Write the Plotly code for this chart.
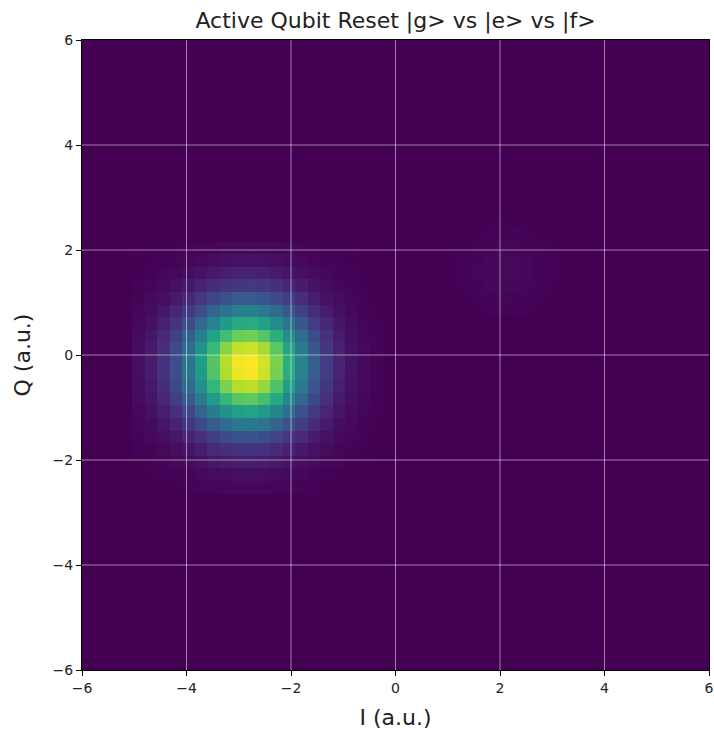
import numpy as np
import plotly.graph_objects as go

# ---- data -------------------------------------------------------------
TITLE = "Active Qubit Reset |g> vs |e> vs |f>"
X_LABEL = "I (a.u.)"
Y_LABEL = "Q (a.u.)"
AXIS_RANGE = [-6, 6]
N_BINS = 50
TICK_VALUES = [-6, -4, -2, 0, 2, 4, 6]

# main |g> cluster: counts, rows = Q bins 14..33 (bottom->top),
# columns = I bins 4..23
MAIN_I_BIN0 = 4
MAIN_Q_BIN0 = 14
MAIN_COUNTS = [
    [1, 1, 3, 4, 7, 10, 13, 16, 18, 18, 17, 14, 11, 8, 5, 3, 2, 1, 0, 0],
    [1, 3, 6, 10, 15, 22, 29, 35, 39, 40, 37, 32, 25, 18, 12, 7, 4, 2, 1, 0],
    [3, 6, 12, 20, 31, 45, 59, 71, 79, 81, 75, 64, 50, 36, 24, 14, 8, 4, 2, 1],
    [6, 11, 21, 37, 57, 83, 109, 132, 147, 149, 139, 119, 93, 67, 44, 27, 15, 8, 3, 2],
    [9, 19, 36, 62, 98, 141, 186, 226, 251, 255, 238, 204, 159, 115, 76, 46, 25, 13, 6, 3],
    [15, 30, 57, 97, 153, 220, 290, 352, 391, 397, 371, 317, 249, 179, 118, 71, 40, 20, 9, 4],
    [21, 43, 81, 139, 218, 314, 414, 502, 557, 567, 529, 452, 354, 255, 168, 101, 56, 28, 13, 6],
    [28, 57, 106, 182, 285, 410, 542, 657, 729, 742, 692, 592, 464, 334, 220, 133, 74, 37, 17, 7],
    [33, 68, 127, 218, 343, 493, 652, 789, 876, 891, 831, 712, 558, 401, 264, 159, 89, 45, 21, 9],
    [36, 75, 140, 240, 377, 542, 716, 868, 963, 980, 914, 782, 613, 441, 290, 175, 97, 49, 23, 10],
    [37, 75, 141, 242, 380, 547, 723, 876, 972, 989, 922, 789, 619, 445, 293, 177, 98, 50, 23, 10],
    [34, 70, 130, 224, 352, 506, 668, 810, 899, 914, 853, 730, 572, 411, 271, 163, 91, 46, 21, 9],
    [29, 59, 110, 190, 298, 429, 566, 686, 762, 775, 723, 619, 485, 349, 230, 138, 77, 39, 18, 8],
    [22, 46, 86, 148, 232, 333, 440, 534, 592, 603, 562, 481, 377, 271, 178, 108, 60, 30, 14, 6],
    [16, 33, 61, 105, 165, 237, 314, 380, 422, 429, 400, 343, 269, 193, 127, 77, 43, 22, 10, 4],
    [10, 21, 40, 69, 108, 155, 205, 248, 275, 280, 261, 223, 175, 126, 83, 50, 28, 14, 6, 3],
    [6, 13, 24, 41, 64, 93, 122, 148, 164, 167, 156, 134, 105, 75, 50, 30, 17, 8, 4, 2],
    [3, 7, 13, 22, 35, 51, 67, 81, 90, 92, 85, 73, 57, 41, 27, 16, 9, 5, 2, 1],
    [2, 4, 7, 11, 18, 26, 34, 41, 46, 47, 44, 37, 29, 21, 14, 8, 5, 2, 1, 0],
    [1, 2, 3, 5, 8, 12, 15, 19, 21, 21, 20, 17, 13, 9, 6, 4, 2, 1, 0, 0],
]

# faint residual |e> cluster: rows = Q bins 28..35, columns = I bins 29..37
FAINT_I_BIN0 = 29
FAINT_Q_BIN0 = 28
FAINT_COUNTS = [
    [1, 2, 4, 6, 7, 6, 5, 3, 1],
    [1, 4, 8, 11, 13, 12, 10, 6, 3],
    [2, 6, 11, 16, 19, 18, 15, 10, 4],
    [3, 7, 13, 18, 21, 21, 18, 12, 6],
    [2, 6, 11, 16, 19, 20, 17, 11, 6],
    [1, 4, 7, 11, 14, 15, 12, 8, 4],
    [1, 2, 4, 6, 7, 8, 7, 4, 2],
    [0, 1, 2, 2, 3, 3, 2, 2, 1],
]

# ---- build histogram grid --------------------------------------------
edges = np.linspace(AXIS_RANGE[0], AXIS_RANGE[1], N_BINS + 1)
centers = (edges[:-1] + edges[1:]) / 2
Z = np.zeros((N_BINS, N_BINS))
for block, i0, q0 in ((MAIN_COUNTS, MAIN_I_BIN0, MAIN_Q_BIN0),
                      (FAINT_COUNTS, FAINT_I_BIN0, FAINT_Q_BIN0)):
    arr = np.array(block, dtype=float)
    Z[q0:q0 + arr.shape[0], i0:i0 + arr.shape[1]] += arr

fig = go.Figure(go.Heatmap(
    x=centers, y=centers, z=Z,
    colorscale="Viridis", showscale=False, zsmooth=False,
    hoverinfo="skip",
))

GRID_COLOR = "rgba(255,255,255,0.5)"
shapes = []
for t in TICK_VALUES[1:-1]:
    shapes.append(dict(type="line", xref="x", yref="paper", x0=t, x1=t, y0=0, y1=1,
                       line=dict(color=GRID_COLOR, width=1), layer="above"))
    shapes.append(dict(type="line", xref="paper", yref="y", x0=0, x1=1, y0=t, y1=t,
                       line=dict(color=GRID_COLOR, width=1), layer="above"))

FONT = "DejaVu Sans"
axis_common = dict(
    range=AXIS_RANGE, tickvals=TICK_VALUES, ticks="outside", ticklen=5,
    tickcolor="black", tickwidth=1, showgrid=False, zeroline=False,
    showline=True, linecolor="black", linewidth=1, mirror=True,
    tickfont=dict(family=FONT, size=14, color="#222"),
    ticklabeloverflow="allow",
)

FIG_W, FIG_H = 714, 730
fig.update_layout(
    width=FIG_W, height=FIG_H,
    margin=dict(l=82, r=5, t=40, b=60, autoexpand=False),
    paper_bgcolor="white", plot_bgcolor="#440154",
    title=dict(text=TITLE, x=0.5, xref="paper", xanchor="center",
               y=1 - 20 / FIG_H, yref="container", yanchor="middle",
               font=dict(family=FONT, size=22, color="#222")),
    xaxis=dict(**axis_common,
               title=dict(text=X_LABEL, font=dict(family=FONT, size=22, color="#222"), standoff=14)),
    yaxis=dict(**axis_common,
               title=dict(text=Y_LABEL, font=dict(family=FONT, size=22, color="#222"), standoff=15)),
    shapes=shapes,
)

# remove the default page margin so the figure fills the window exactly
fig.write_html(
    "out.html",
    config={"displayModeBar": False},
    post_script="document.body.style.margin='0';document.body.style.overflow='hidden';",
)
